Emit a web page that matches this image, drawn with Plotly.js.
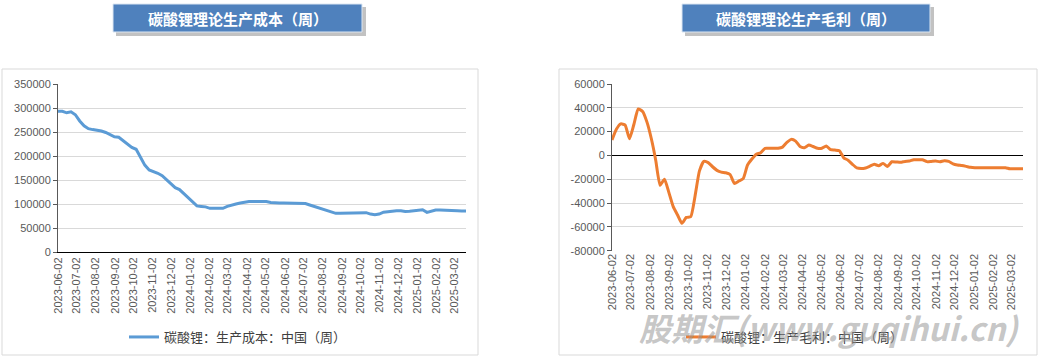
<!DOCTYPE html>
<html>
<head>
<meta charset="utf-8">
<script src="https://cdn.plot.ly/plotly-3.0.1.min.js"></script>
<style>
html,body{margin:0;padding:0;background:#fff;}
#chart{width:1039px;height:359px;}
</style>
</head>
<body>
<div id="chart"></div>
<script>
// ---- data ----
const weeks = [
"2023-06-02","2023-06-09","2023-06-16","2023-06-23","2023-06-30","2023-07-07","2023-07-14","2023-07-21","2023-07-28",
"2023-08-04","2023-08-11","2023-08-18","2023-08-25","2023-09-01","2023-09-08","2023-09-15","2023-09-22","2023-09-29",
"2023-10-06","2023-10-13","2023-10-20","2023-10-27","2023-11-03","2023-11-10","2023-11-17","2023-11-24","2023-12-01",
"2023-12-08","2023-12-15","2023-12-22","2023-12-29",
"2024-01-05","2024-01-12","2024-01-19","2024-01-26","2024-02-02","2024-02-09","2024-02-16","2024-02-23","2024-03-01",
"2024-03-08","2024-03-15","2024-03-22","2024-03-29","2024-04-05","2024-04-12","2024-04-19","2024-04-26","2024-05-03",
"2024-05-10","2024-05-17","2024-05-24","2024-05-31","2024-06-07","2024-06-14","2024-06-21","2024-06-28","2024-07-05",
"2024-07-12","2024-07-19","2024-07-26","2024-08-02","2024-08-09","2024-08-16","2024-08-23","2024-08-30","2024-09-06",
"2024-09-13","2024-09-20","2024-09-27","2024-10-04","2024-10-11","2024-10-18","2024-10-25","2024-11-01","2024-11-08",
"2024-11-15","2024-11-22","2024-11-29","2024-12-06","2024-12-13","2024-12-20","2024-12-27",
"2025-01-03","2025-01-10","2025-01-17","2025-01-24","2025-01-31","2025-02-07","2025-02-14","2025-02-21","2025-02-28",
"2025-03-07","2025-03-14","2025-03-21"
];

const costSeries = [
293000,293000,290000,292000,286000,273000,263000,257000,255000,254000,
252000,249000,244000,240000,239000,232000,226000,218000,214000,197000,
181000,171000,168000,164000,159000,151000,141000,134000,130000,121000,
114000,105000,96000,95000,94000,91000,91000,91000,91000,95000,
98000,100000,102000,104000,105000,105000,105000,105000,105000,103000,
102000,102000,102000,102000,102000,102000,102000,101000,98000,95000,
92000,88000,85000,82000,80500,80500,80500,80500,80500,80500,
81000,82000,79000,77500,79000,83000,84000,85500,86000,86000,
84500,85000,86000,86000,88000,82500,85000,87500,87500,87500,
87500,87500,86000,85500,85500
];

const profitSeries = [
13000,22000,26500,25500,14000,26000,39000,37000,28000,14000,
-4000,-25000,-20000,-31000,-43000,-50000,-57000,-52000,-51500,-34000,
-13000,-5000,-6000,-9500,-12500,-14000,-14500,-16000,-23500,-21500,
-19500,-8000,-3000,1000,2300,6000,6000,6000,6000,7000,
11000,13500,12000,7500,6500,8700,7500,6000,6000,8000,
4800,4500,4000,-2000,-4000,-7500,-10500,-11000,-10500,-9000,
-7500,-8600,-6700,-9200,-5300,-5500,-5800,-5000,-4700,-3600,
-3600,-3600,-5200,-5000,-4700,-5300,-4500,-5000,-7000,-8000,
-8500,-9200,-10000,-10300,-10300,-10300,-10300,-10300,-10300,-10300,
-10300,-11200,-11200,-11200,-11200
];

const xTickLabels = [
"2023-06-02","2023-07-02","2023-08-02","2023-09-02","2023-10-02","2023-11-02","2023-12-02",
"2024-01-02","2024-02-02","2024-03-02","2024-04-02","2024-05-02","2024-06-02","2024-07-02",
"2024-08-02","2024-09-02","2024-10-02","2024-11-02","2024-12-02","2025-01-02","2025-02-02","2025-03-02"
];

const costTicks = [0,50000,100000,150000,200000,250000,300000,350000];
const costTickText = ["0","50000","100000","150000","200000","250000","300000","350000"];
const profitTicks = [-80000,-60000,-40000,-20000,0,20000,40000,60000];
const profitTickText = ["-80000","-60000","-40000","-20000","0","20000","40000","60000"];

const costName = "碳酸锂：生产成本：中国（周）";
const profitName = "碳酸锂：生产毛利：中国（周）";
const title1 = "碳酸锂理论生产成本（周）";
const title2 = "碳酸锂理论生产毛利（周）";
const watermark = "股期汇(www.guqihui.cn)";

// ---- layout helpers (pixel -> paper) ----
const W = 1039, H = 359;
const px = v => v / W;
const py = v => 1 - v / H;

const tickFont = {family: "Liberation Sans, Arial, sans-serif", size: 11, color: "#595959"};
const cjk = "Noto Sans CJK SC, sans-serif";

const traces = [
  {x: weeks, y: costSeries, name: costName, type: "scatter", mode: "lines",
   xaxis: "x", yaxis: "y", line: {color: "#5B9BD5", width: 3}, legend: "legend"},
  {x: weeks, y: profitSeries, name: profitName, type: "scatter", mode: "lines",
   xaxis: "x2", yaxis: "y2", line: {color: "#ED7D31", width: 3, shape: "spline", smoothing: 0.5}, legend: "legend2"}
];

function rectShape(x0, x1, y0, y1, opts) {
  return Object.assign({type: "rect", xref: "paper", yref: "paper",
    x0: px(x0), x1: px(x1), y0: py(y1), y1: py(y0)}, opts);
}

const layout = {
  width: W, height: H,
  margin: {l: 0, r: 0, t: 0, b: 0},
  paper_bgcolor: "#ffffff", plot_bgcolor: "#ffffff",
  showlegend: true,
  xaxis: {
    type: "date", domain: [px(58), px(466)], range: ["2023-06-02", "2025-03-21"],
    tickmode: "array", tickvals: xTickLabels, ticktext: xTickLabels, tickangle: -90,
    tickfont: tickFont, showgrid: false, zeroline: false,
    showline: true, linecolor: "#000000", linewidth: 1, ticks: "", anchor: "y"
  },
  yaxis: {
    domain: [py(252), py(84)], range: [0, 350000],
    tickmode: "array", tickvals: costTicks, ticktext: costTickText, tickfont: tickFont,
    showgrid: true, gridcolor: "#D9D9D9", gridwidth: 1, zeroline: false,
    showline: true, linecolor: "#595959", linewidth: 1,
    ticks: "outside", ticklen: 4, tickcolor: "#595959", anchor: "x"
  },
  xaxis2: {
    type: "date", domain: [px(612), px(1023)], range: ["2023-06-02", "2025-03-21"],
    tickmode: "array", tickvals: xTickLabels, ticktext: xTickLabels, tickangle: -90,
    tickfont: tickFont, showgrid: false, zeroline: false,
    showline: false, ticks: "", anchor: "y2"
  },
  yaxis2: {
    domain: [py(250.7), py(84)], range: [-80000, 60000],
    tickmode: "array", tickvals: profitTicks, ticktext: profitTickText, tickfont: tickFont,
    showgrid: true, gridcolor: "#D9D9D9", gridwidth: 1,
    zeroline: true, zerolinecolor: "#000000", zerolinewidth: 1,
    showline: true, linecolor: "#595959", linewidth: 1,
    ticks: "outside", ticklen: 4, tickcolor: "#595959", anchor: "x2"
  },
  legend: {
    x: px(124), xanchor: "left", y: py(337), yanchor: "middle",
    orientation: "h", bgcolor: "rgba(0,0,0,0)",
    font: {family: cjk, size: 13, color: "#404040"}
  },
  legend2: {
    x: px(681), xanchor: "left", y: py(337), yanchor: "middle",
    orientation: "h", bgcolor: "rgba(0,0,0,0)",
    font: {family: cjk, size: 13, color: "#404040"}
  },
  shapes: [
    rectShape(2, 478, 69, 355, {line: {color: "#D9D9D9", width: 1}, fillcolor: "rgba(0,0,0,0)", layer: "below"}),
    rectShape(559, 1037, 69, 355, {line: {color: "#D9D9D9", width: 1}, fillcolor: "rgba(0,0,0,0)", layer: "below"}),
    rectShape(116, 366, 7, 36, {line: {width: 0}, fillcolor: "rgba(120,120,120,0.45)", layer: "above"}),
    rectShape(685, 934, 7, 36, {line: {width: 0}, fillcolor: "rgba(120,120,120,0.45)", layer: "above"}),
    rectShape(113, 362, 4, 32, {line: {color: "#DCE6F2", width: 1}, fillcolor: "#4F81BD", layer: "above"}),
    rectShape(682, 930, 4, 32, {line: {color: "#DCE6F2", width: 1}, fillcolor: "#4F81BD", layer: "above"})
  ],
  annotations: [
    {text: title1, xref: "paper", yref: "paper", x: px(237.5), y: py(18), xanchor: "center", yanchor: "middle",
     showarrow: false, font: {family: cjk, size: 15, color: "#ffffff", weight: "bold"}},
    {text: title2, xref: "paper", yref: "paper", x: px(806), y: py(18), xanchor: "center", yanchor: "middle",
     showarrow: false, font: {family: cjk, size: 15, color: "#ffffff", weight: "bold"}},
    {text: watermark, xref: "paper", yref: "paper", x: px(829), y: py(327), xanchor: "center", yanchor: "middle",
     showarrow: false, font: {family: "Noto Sans CJK SC, Liberation Sans, sans-serif", size: 32, color: "rgba(150,150,150,0.55)", weight: "bold", style: "italic"}}
  ]
};

Plotly.newPlot("chart", traces, layout, {displayModeBar: false, staticPlot: true});
</script>
</body>
</html>
